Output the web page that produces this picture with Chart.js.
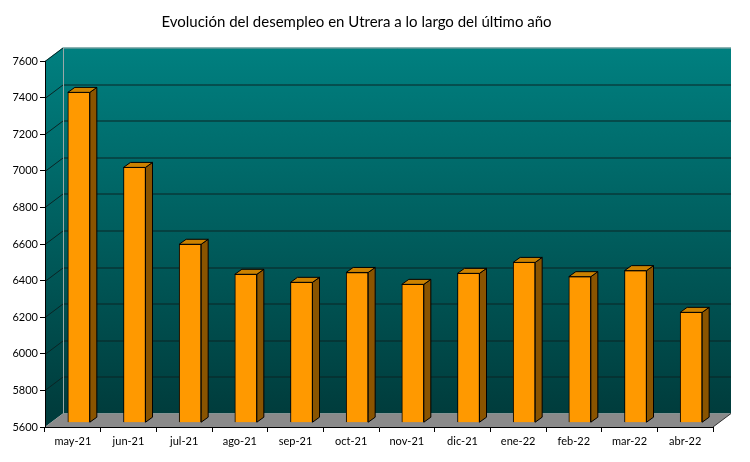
<!DOCTYPE html>
<html>
<head>
<meta charset="utf-8">
<script src="https://cdn.jsdelivr.net/npm/chart.js@4"></script>
<style>
  html, body { margin: 0; padding: 0; background: #fff; }
  #wrap { width: 750px; height: 462px; }
</style>
</head>
<body>
<div id="wrap"><canvas id="paro"></canvas></div>
<script>
// datos
var meses = ["may-21", "jun-21", "jul-21", "ago-21", "sep-21", "oct-21",
             "nov-21", "dic-21", "ene-22", "feb-22", "mar-22", "abr-22"];
var parados = [7405, 6995, 6575, 6411, 6367, 6421, 6356, 6416, 6476, 6398, 6431, 6203];
var ejeMin = 5600;
var ejeMax = 7600;
var ejePaso = 200;

var FONDO = "Lato, 'DejaVu Sans', sans-serif";

// profundidad del "3d"
var DX = 18, DY = 13.5;     // pared del fondo
var BX = 6, BY = 4.3;       // desplazamiento de las barras
var SX = 7, SY = 5;         // grosor de cada barra

var pared3d = {
    id: "pared3d",
    beforeDraw: function (chart) {
        var ctx = chart.ctx, a = chart.chartArea, y = chart.scales.y;
        ctx.save();
        // pared del fondo
        var g = ctx.createLinearGradient(0, a.top - DY, 0, a.bottom - DY);
        g.addColorStop(0, "#008080");
        g.addColorStop(1, "#003c3c");
        ctx.fillStyle = g;
        ctx.fillRect(a.left + DX, a.top - DY, a.right - a.left, a.bottom - a.top);
        // pared lateral
        ctx.beginPath();
        ctx.moveTo(a.left, a.top);
        ctx.lineTo(a.left + DX, a.top - DY);
        ctx.lineTo(a.left + DX, a.bottom - DY);
        ctx.lineTo(a.left, a.bottom);
        ctx.closePath();
        ctx.fill();
        // suelo
        ctx.beginPath();
        ctx.moveTo(a.left, a.bottom);
        ctx.lineTo(a.left + DX, a.bottom - DY);
        ctx.lineTo(a.right + DX, a.bottom - DY);
        ctx.lineTo(a.right, a.bottom);
        ctx.closePath();
        ctx.fillStyle = "#8a8a8a";
        ctx.fill();
        ctx.strokeStyle = "#333";
        ctx.lineWidth = 1;
        ctx.beginPath();
        ctx.moveTo(a.right, a.bottom);
        ctx.lineTo(a.right + DX, a.bottom - DY);
        ctx.stroke();

        // lineas de division
        ctx.strokeStyle = "#0b2424";
        y.ticks.forEach(function (t) {
            if (t.value == ejeMin) return;
            var py = Math.round(y.getPixelForValue(t.value)) + 0.5;
            ctx.beginPath();
            ctx.moveTo(a.left, py);
            ctx.lineTo(a.left + DX, py - DY);
            if (t.value != ejeMax) ctx.lineTo(a.right + DX, py - DY);
            ctx.stroke();
        });
        // bordes claros
        ctx.strokeStyle = "#9aa8a8";
        ctx.beginPath();
        ctx.moveTo(a.left + DX + 0.5, a.bottom - DY);
        ctx.lineTo(a.left + DX + 0.5, a.top - DY + 0.5);
        ctx.lineTo(a.right + DX, a.top - DY + 0.5);
        ctx.stroke();
        ctx.restore();
    },
    beforeDatasetsDraw: function (chart) {
        chart.ctx.save();
        chart.ctx.translate(BX, -BY);
    },
    afterDatasetsDraw: function (chart) {
        var ctx = chart.ctx;
        chart.getDatasetMeta(0).data.forEach(function (bar) {
            var p = bar.getProps(["x", "y", "base", "width"], true);
            var l = p.x - p.width / 2, r = p.x + p.width / 2;
            ctx.lineWidth = 1;
            ctx.strokeStyle = "#000";
            // lateral
            ctx.beginPath();
            ctx.moveTo(r, p.y);
            ctx.lineTo(r + SX, p.y - SY);
            ctx.lineTo(r + SX, p.base - SY);
            ctx.lineTo(r, p.base);
            ctx.closePath();
            ctx.fillStyle = "#8a5400";
            ctx.fill();
            ctx.stroke();
            // tapa
            ctx.beginPath();
            ctx.moveTo(l, p.y);
            ctx.lineTo(l + SX, p.y - SY);
            ctx.lineTo(r + SX, p.y - SY);
            ctx.lineTo(r, p.y);
            ctx.closePath();
            ctx.fillStyle = "#cc8200";
            ctx.fill();
            ctx.stroke();
        });
        ctx.restore();
    }
};

var ctxParo = document.getElementById("paro");
var graficoParo = new Chart(ctxParo, {
    type: "bar",
    data: {
        labels: meses,
        datasets: [
            {
                label: "Parados",
                data: parados,
                base: ejeMin,
                backgroundColor: "#ff9900",
                borderColor: "#000",
                borderWidth: 1,
                barThickness: 22,
                clip: false,
            },
        ],
    },
    options: {
        responsive: true,
        maintainAspectRatio: false,
        animation: false,
        devicePixelRatio: 1,
        layout: {
            padding: { left: 0, right: 37, top: 0, bottom: 0 },
        },
        scales: {
            x: {
                grid: {
                    offset: true,
                    drawOnChartArea: false,
                    drawTicks: true,
                    tickLength: 5,
                    color: "#000",
                },
                border: { color: "#000", width: 1 },
                ticks: {
                    color: "#000",
                    padding: 3,
                    maxRotation: 0,
                    font: { family: FONDO, size: 11 },
                },
                afterFit: function (s) { s.height = 35; },
            },
            y: {
                min: ejeMin,
                max: ejeMax,
                grid: {
                    drawOnChartArea: false,
                    drawTicks: true,
                    tickLength: 5,
                    color: "#000",
                },
                border: { color: "#000", width: 1 },
                ticks: {
                    stepSize: ejePaso,
                    color: "#000",
                    padding: 2,
                    font: { family: FONDO, size: 11 },
                    callback: function (v) { return String(v); },
                },
                afterFit: function (s) { s.width = 45; },
            },
        },
        plugins: {
            legend: { display: false },
            tooltip: { enabled: false },
            title: {
                display: true,
                text: "Evolución del desempleo en Utrera a lo largo del último año",
                color: "#000",
                font: { family: FONDO, size: 15, weight: "normal" },
                padding: { top: 13, bottom: 30 },
            },
        },
    },
    plugins: [pared3d],
});
</script>
</body>
</html>
